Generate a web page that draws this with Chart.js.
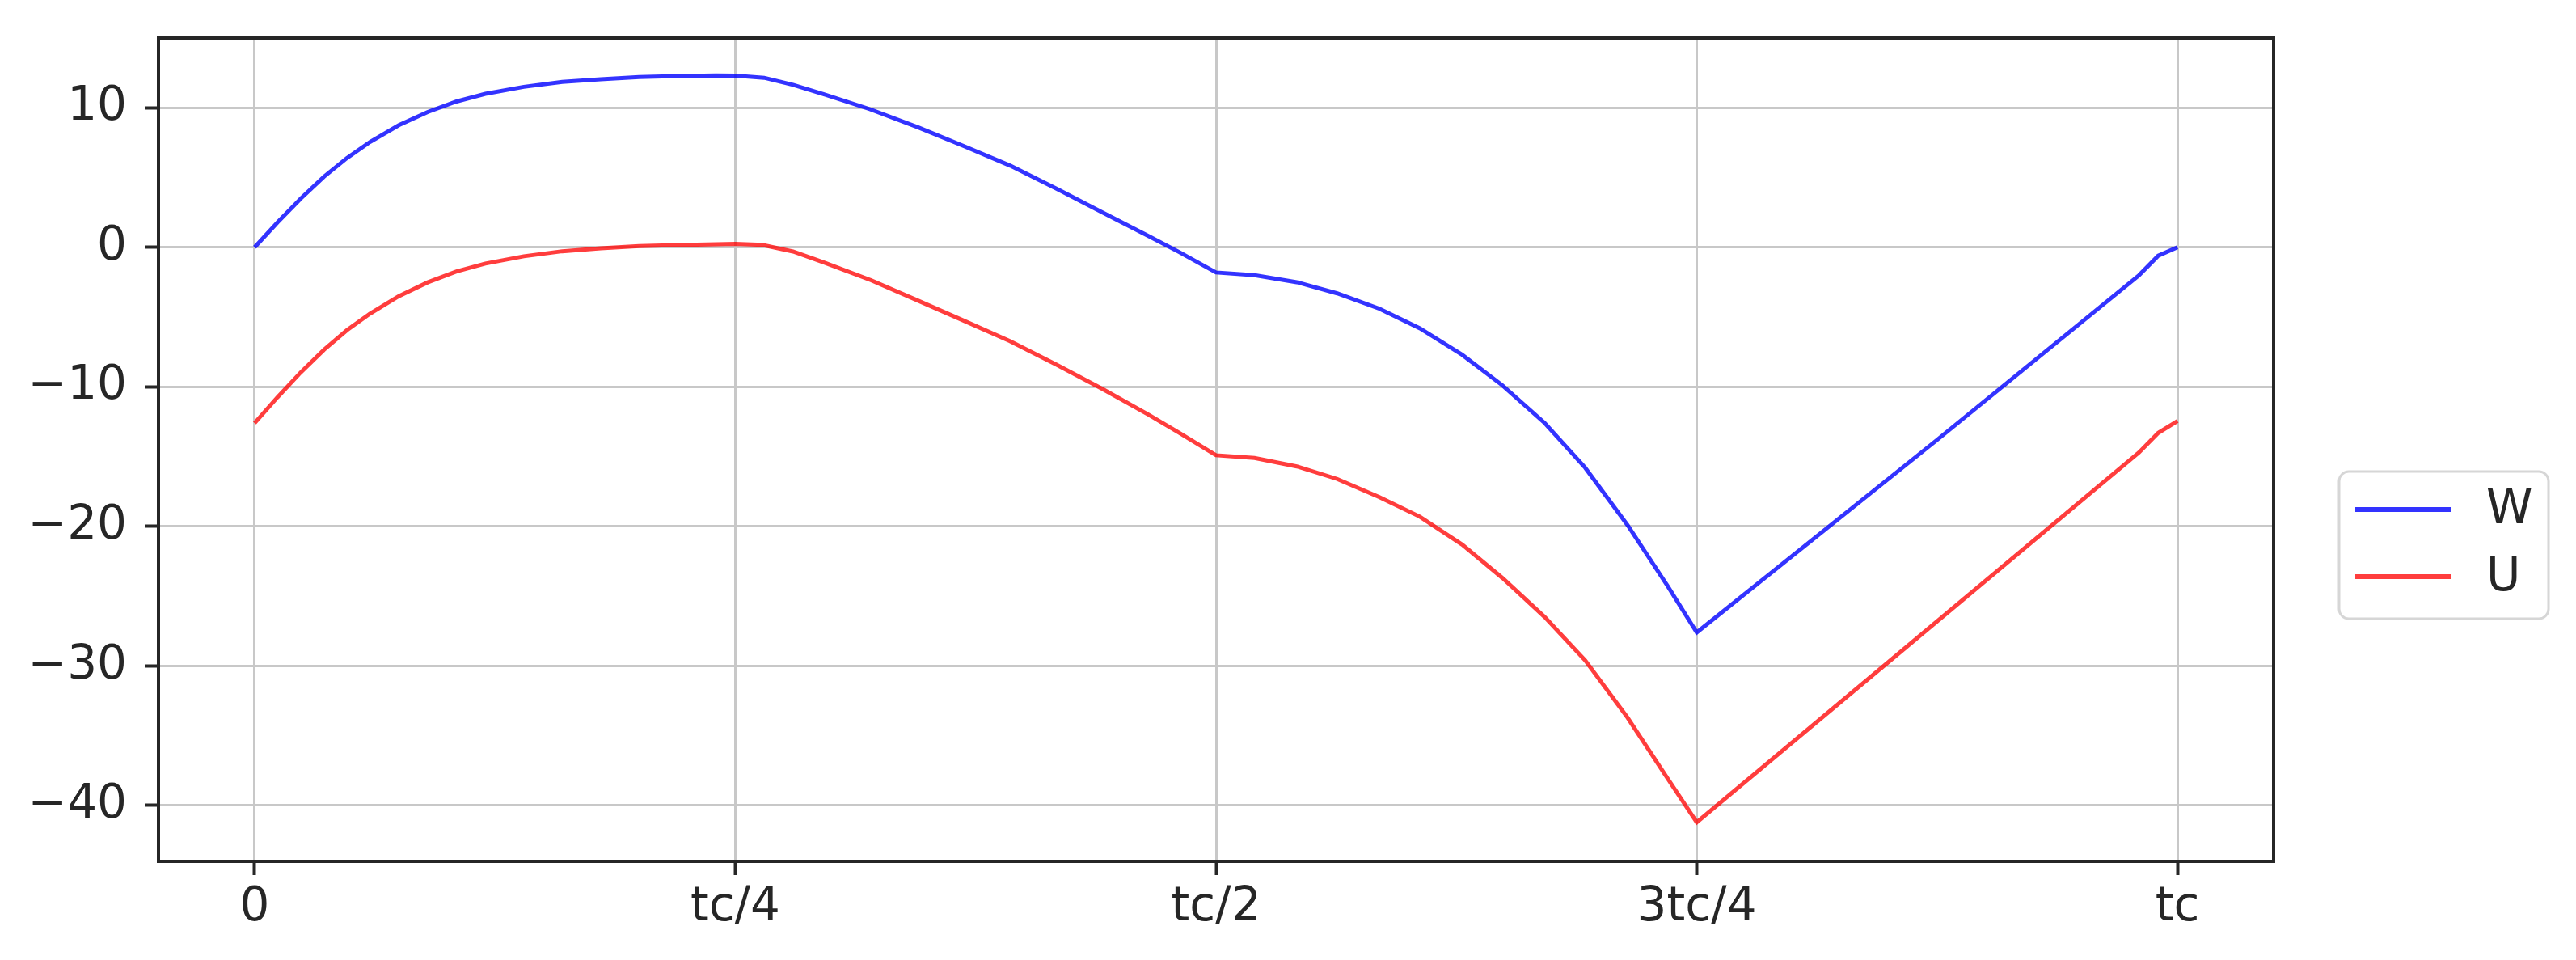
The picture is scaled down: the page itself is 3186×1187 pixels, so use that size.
<!DOCTYPE html>
<html>
<head>
<meta charset="utf-8">
<script src="https://cdn.jsdelivr.net/npm/chart.js@4/dist/chart.umd.min.js"></script>
<style>
  html, body { margin: 0; padding: 0; background: #fff; }
  canvas { display: block; }
</style>
</head>
<body>
<canvas id="chart" width="3186" height="1187"></canvas>
<script>
// x is time as a fraction of tc
const tickValuesX = [0, 0.25, 0.5, 0.75, 1];
const tickLabelsX = ['0', 'tc/4', 'tc/2', '3tc/4', 'tc'];
const tickValuesY = [-40, -30, -20, -10, 0, 10];

const wTimes = [0, 0.012, 0.024, 0.036, 0.048, 0.06, 0.075, 0.09, 0.105, 0.12, 0.14, 0.16, 0.18, 0.2, 0.22, 0.24, 0.25,
  0.265, 0.28, 0.2965, 0.32, 0.345, 0.369, 0.393, 0.417, 0.441, 0.465, 0.481, 0.5,
  0.52, 0.542, 0.563, 0.585, 0.606, 0.628, 0.649, 0.671, 0.692, 0.714, 0.735, 0.75,
  0.875, 0.98, 0.99, 1.0];
const wValues = [0, 1.8, 3.5, 5.05, 6.4, 7.55, 8.75, 9.7, 10.45, 11.0, 11.5, 11.85, 12.05, 12.2, 12.28, 12.32, 12.3,
  12.15, 11.65, 10.95, 9.9, 8.6, 7.25, 5.85, 4.2, 2.5, 0.8, -0.35, -1.8,
  -2.0, -2.5, -3.3, -4.4, -5.8, -7.7, -9.9, -12.6, -15.8, -19.9, -24.3, -27.6,
  -13.8, -2.0, -0.6, 0];

const uTimes = [0, 0.012, 0.024, 0.036, 0.048, 0.06, 0.075, 0.09, 0.105, 0.12, 0.14, 0.16, 0.18, 0.2, 0.22, 0.24, 0.25,
  0.264, 0.28, 0.2965, 0.3206, 0.3447, 0.3687, 0.3928, 0.4169, 0.441, 0.465, 0.481, 0.5,
  0.52, 0.542, 0.563, 0.585, 0.606, 0.628, 0.649, 0.671, 0.692, 0.714, 0.735, 0.75,
  0.875, 0.98, 0.99, 1.0];
const uValues = [-12.6, -10.73, -8.96, -7.35, -5.94, -4.75, -3.5, -2.51, -1.73, -1.16, -0.64, -0.28, -0.07, 0.09, 0.17, 0.22, 0.25,
  0.18, -0.3, -1.1, -2.36, -3.8, -5.25, -6.72, -8.4, -10.15, -12.0, -13.3, -14.9,
  -15.1, -15.7, -16.6, -17.9, -19.3, -21.3, -23.7, -26.5, -29.6, -33.7, -38.1, -41.2,
  -26.8, -14.7, -13.3, -12.45];

const toPoints = (ts, vs) => ts.map((t, i) => ({ x: t, y: vs[i] }));

const FONT = '"DejaVu Sans", sans-serif';
const INK = '#262626';

// box round the axes plus the legend on the right
const frameAndLegend = {
  id: 'frameAndLegend',
  afterDatasetsDraw(chart) {
    const ctx = chart.ctx;
    const a = chart.chartArea;
    ctx.save();
    ctx.strokeStyle = INK;
    ctx.lineWidth = 4;
    ctx.strokeRect(a.left, a.top, a.right - a.left, a.bottom - a.top);

    const bx = 2893, by = 583, bw = 259, bh = 182;
    ctx.fillStyle = 'rgba(255,255,255,0.8)';
    ctx.strokeStyle = '#d6d6d6';
    ctx.lineWidth = 3;
    ctx.beginPath();
    ctx.roundRect(bx, by, bw, bh, 12);
    ctx.fill();
    ctx.stroke();

    ctx.font = '58px ' + FONT;
    ctx.textBaseline = 'middle';
    ctx.textAlign = 'left';
    chart.data.datasets.forEach((ds, i) => {
      const y = by + 47 + i * 83;
      ctx.strokeStyle = ds.borderColor;
      ctx.lineWidth = 6;
      ctx.beginPath();
      ctx.moveTo(bx + 20, y);
      ctx.lineTo(bx + 138, y);
      ctx.stroke();
      ctx.fillStyle = INK;
      ctx.fillText(ds.label, bx + 182, y + 2);
    });
    ctx.restore();
  }
};

new Chart(document.getElementById('chart'), {
  type: 'line',
  data: {
    datasets: [
      {
        label: 'W',
        data: toPoints(wTimes, wValues),
        borderColor: 'rgba(0, 0, 255, 0.8)',
        borderWidth: 5,
        pointRadius: 0,
        tension: 0,
        fill: false
      },
      {
        label: 'U',
        data: toPoints(uTimes, uValues),
        borderColor: 'rgba(255, 0, 0, 0.76)',
        borderWidth: 5,
        pointRadius: 0,
        tension: 0,
        fill: false
      }
    ]
  },
  options: {
    responsive: false,
    animation: false,
    devicePixelRatio: 1,
    layout: { padding: { top: 47, right: 374, left: 0, bottom: 0 } },
    plugins: {
      legend: { display: false },
      tooltip: { enabled: false }
    },
    scales: {
      x: {
        type: 'linear',
        min: -0.05,
        max: 1.05,
        afterBuildTicks: scale => { scale.ticks = tickValuesX.map(v => ({ value: v })); },
        afterFit: scale => {
          scale.height = 122;
          scale.paddingLeft = 0;
          scale.paddingRight = 0;
        },
        border: { display: false },
        grid: { color: '#c8c8c8', lineWidth: 3, tickLength: 17, tickWidth: 4, tickColor: INK },
        ticks: {
          padding: 6,
          color: INK,
          font: { family: FONT, size: 58 },
          maxRotation: 0,
          callback: v => tickLabelsX[tickValuesX.indexOf(v)]
        }
      },
      y: {
        type: 'linear',
        min: -44,
        max: 15,
        afterBuildTicks: scale => { scale.ticks = tickValuesY.map(v => ({ value: v })); },
        afterFit: scale => {
          scale.width = 196;
          scale.paddingTop = 0;
          scale.paddingBottom = 0;
        },
        border: { display: false },
        grid: { color: '#c8c8c8', lineWidth: 3, tickLength: 17, tickWidth: 4, tickColor: INK },
        ticks: {
          padding: 22,
          color: INK,
          font: { family: FONT, size: 58 },
          callback: v => (v < 0 ? '\u2212' + Math.abs(v) : String(v))
        }
      }
    }
  },
  plugins: [frameAndLegend]
});
</script>
</body>
</html>
